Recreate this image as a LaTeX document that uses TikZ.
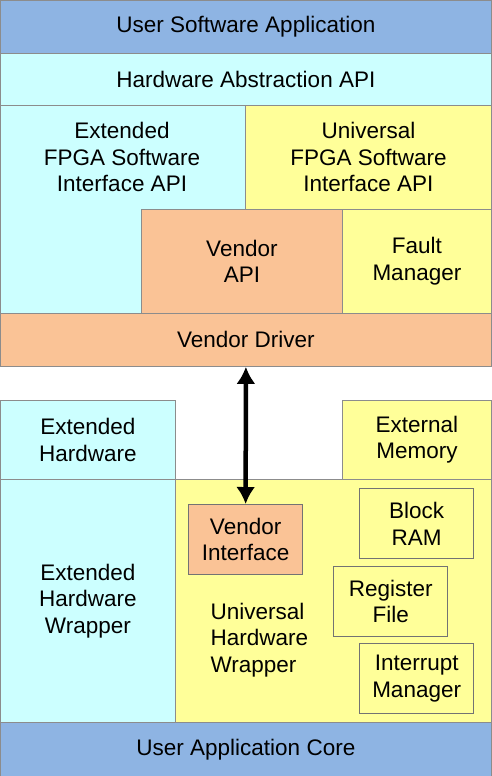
\documentclass[tikz,border=0pt]{standalone}
\usepackage{fontspec}
\setmainfont{Liberation Sans}
\usetikzlibrary{arrows.meta,positioning}
\definecolor{userblue}{RGB}{142,180,227}
\definecolor{lcyan}{RGB}{204,255,255}
\definecolor{lyellow}{RGB}{255,255,153}
\definecolor{lorange}{RGB}{250,195,150}

\begin{document}
\begin{tikzpicture}[x=1pt, y=-1pt, font=\fontsize{22.5}{26.5}\selectfont,
    layer/.style={draw=black!45, line width=0.8pt, inner sep=0pt, align=center, anchor=north west},
    inbox/.style={draw=black!55, line width=1.3pt, inner sep=0pt, align=center, anchor=north west}]
        \useasboundingbox (0,0) rectangle (491,776);
        \filldraw[fill=lcyan, draw=black!45, line width=0.8pt] (0,105) -- (245,105) -- (245,209)
          -- (141,209) -- (141,313) -- (0,313) -- cycle;
        \node[align=center] (xfsi) at (122,157) {Extended\\FPGA Software\\Interface API};
        \filldraw[fill=lyellow, draw=black!45, line width=0.8pt] (175,479) rectangle (491,722);
        \foreach \n/\x/\y/\w/\h/\col/\txt in {
            usa/0/0/491/53/userblue/{User Software Application},
            haa/0/53/491/52/lcyan/{Hardware Abstraction API},
            ufsi/245/105/246/104/lyellow/{Universal\\FPGA Software\\Interface API},
            vapi/141/209/201/104/lorange/{Vendor\\API},
            fmgr/342/209/149/104/lyellow/{Fault\\Manager},
            vdrv/0/313/491/53/lorange/{Vendor Driver},
            xhw/0/400/175/79/lcyan/{Extended\\Hardware},
            xmem/342/400/149/79/lyellow/{External\\Memory},
            xhww/0/479/175/243/lcyan/{Extended\\Hardware\\Wrapper},
            uac/0/722/491/54/userblue/{User Application Core}}{
          \node[layer, fill=\col, minimum width=\w pt, minimum height=\h pt] (\n) at (\x,\y) {\txt};
        }
        \node[align=left, anchor=west] (uhww) at (207,640) {Universal\\Hardware\\Wrapper};
        \foreach \n/\x/\y/\col/\txt in {
            vif/188/504/lorange/{Vendor\\Interface},
            bram/359/488/lyellow/{Block\\RAM},
            rfile/333/566/lyellow/{Register\\File},
            imgr/359/643/lyellow/{Interrupt\\Manager}}{
          \node[inbox, fill=\col, minimum width=114pt, minimum height=70pt] (\n) at (\x,\y) {\txt};
        }
        \draw[{Latex[length=17pt,width=19pt]}-{Latex[length=17pt,width=19pt]}, line width=4.5pt]
          (vdrv.south) -- (vif.north);
      \end{tikzpicture}
\end{document}
